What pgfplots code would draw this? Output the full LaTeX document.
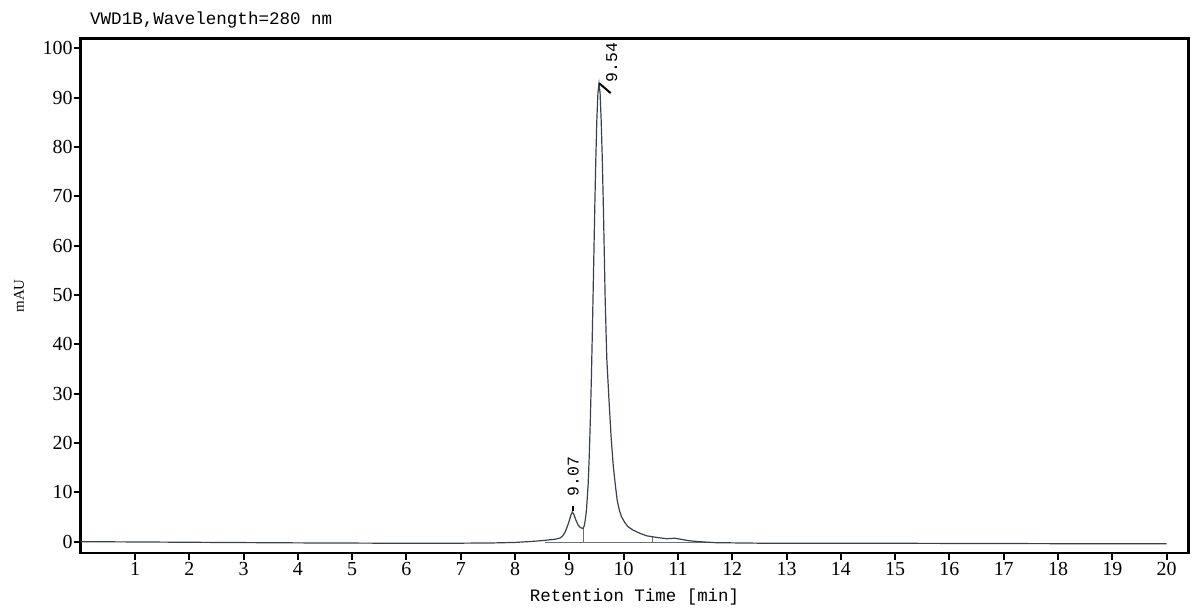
\documentclass[border=0pt]{standalone}
\usepackage{fontspec}
\setmainfont{Liberation Serif}
\newfontfamily\monofont{Liberation Mono}
\usepackage{pgfplots}
\pgfplotsset{compat=1.18}
\definecolor{trace}{RGB}{58,64,78}
\definecolor{basecol}{RGB}{110,114,120}

% chromatogram trace (min, mAU)
\pgfplotstableread{
x y
0.0 0.00
1.0 -0.05
2.0 -0.12
3.0 -0.18
4.0 -0.24
5.0 -0.28
6.0 -0.32
7.0 -0.30
7.6 -0.25
8.0 -0.15
8.3 0.05
8.5 0.22
8.65 0.40
8.75 0.52
8.83 0.75
8.88 1.20
8.92 1.90
8.96 3.00
9.00 4.30
9.03 5.40
9.055 6.00
9.08 5.60
9.12 4.40
9.16 3.40
9.20 2.90
9.23 2.75
9.255 2.72
9.276 3.30
9.296 4.60
9.316 6.50
9.346 11.6
9.366 17.2
9.386 24.5
9.406 33.4
9.426 43.8
9.446 55.1
9.466 66.5
9.486 76.9
9.506 85.4
9.526 90.9
9.546 92.8
9.566 90.9
9.586 85.4
9.607 77.4
9.63 66.0
9.66 49.0
9.69 37.0
9.73 28.7
9.77 21.0
9.81 15.2
9.85 11.2
9.88 8.45
9.92 6.40
9.96 5.07
10.02 3.90
10.08 3.04
10.18 2.30
10.30 1.70
10.42 1.20
10.53 1.00
10.65 0.80
10.80 0.60
10.94 0.70
11.05 0.50
11.20 0.20
11.40 0.00
11.70 -0.20
12.5 -0.30
14.0 -0.30
16.0 -0.35
18.0 -0.40
20.0 -0.40
}\trace

\begin{document}
\begin{tikzpicture}
\useasboundingbox (0,0) rectangle (1200bp,613bp);
\begin{axis}[
  at={(80.7bp,60.2bp)}, anchor=south west,
  scale only axis, width=1107.6bp, height=514.5bp,
  xmin=0, xmax=20.4, ymin=-2.25, ymax=102,
  xtick={1,...,20}, ytick={0,10,...,100},
  xtick pos=left, ytick pos=left,
  tick align=outside,
  major tick length=7bp,
  every tick/.style={black, line width=2bp},
  axis line style={line width=2.5bp, black},
  /pgf/number format/assume math mode=true,
  tick label style={font=\fontsize{20}{20}\selectfont},
  xticklabel style={inner sep=2bp},
  yticklabel style={inner sep=1bp},
  xlabel={\monofont Retention Time [min]},
  xlabel style={at={(rel axis cs:0.5,0)}, anchor=base, yshift=-48.9bp,
    font=\fontsize{17.5}{17.5}\selectfont},
]
\addplot[basecol, line width=0.8bp] coordinates {(8.55,-0.1) (11.6,-0.1)};
\addplot[basecol, line width=0.8bp] coordinates {(9.255,2.72) (9.255,-0.1)};
\addplot[basecol, line width=0.8bp] coordinates {(10.53,1.0) (10.53,-0.1)};
\addplot[trace, line width=1.2bp] table {\trace};

% peak markers and retention time labels
\draw[line width=2.2bp, black] (axis cs:9.062,6.15) -- (axis cs:9.062,7.3);
\draw[line width=2bp, black] (axis cs:9.548,92.9) -- (axis cs:9.76,90.9);
\node[rotate=90, anchor=west, inner sep=0pt,
  font=\monofont\fontsize{16.5}{16.5}\selectfont] at (axis cs:9.07,9.1) {9.07};
\node[rotate=90, anchor=west, inner sep=0pt,
  font=\monofont\fontsize{16.5}{16.5}\selectfont] at (axis cs:9.78,93.1) {9.54};
\end{axis}
\node[rotate=90, inner sep=0pt, font=\fontsize{15}{15}\selectfont]
  at (19bp,317bp) {mAU};
\node[anchor=base west, inner sep=0pt, font=\monofont\fontsize{17.6}{17.6}\selectfont]
  at (90bp,588bp) {VWD1B,Wavelength=280 nm};
\end{tikzpicture}
\end{document}
